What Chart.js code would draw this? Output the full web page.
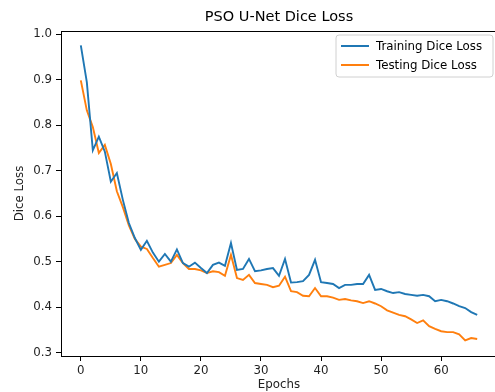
<!DOCTYPE html>
<html>
<head>
<meta charset="utf-8">
<script src="https://cdn.jsdelivr.net/npm/chart.js@4.4.1/dist/chart.umd.min.js"></script>
<style>
html,body{margin:0;padding:0;background:#fff;overflow:hidden;width:495px;height:392px;}
canvas{display:block;}
</style>
</head>
<body>
<canvas id="c" width="520" height="392"></canvas>
<script>
const epochs = Array.from({length: 67}, (_, i) => i);
const trainingDiceLoss = [
  0.976, 0.895, 0.745, 0.775, 0.742, 0.676, 0.695, 0.636, 0.585, 0.552,
  0.526, 0.546, 0.520, 0.500, 0.517, 0.500, 0.527, 0.497, 0.489, 0.498,
  0.486, 0.475, 0.493, 0.498, 0.491, 0.541, 0.482, 0.484, 0.506, 0.479,
  0.481, 0.484, 0.486, 0.469, 0.506, 0.454, 0.455, 0.457, 0.471, 0.504,
  0.455, 0.453, 0.451, 0.442, 0.449, 0.449, 0.451, 0.451, 0.471, 0.438,
  0.440, 0.435, 0.431, 0.433, 0.429, 0.427, 0.425, 0.427, 0.424, 0.413,
  0.416, 0.413, 0.408, 0.402, 0.398, 0.389, 0.383
];
const testingDiceLoss = [
  0.899, 0.833, 0.796, 0.739, 0.757, 0.715, 0.655, 0.620, 0.580, 0.550,
  0.533, 0.528, 0.508, 0.489, 0.493, 0.497, 0.515, 0.497, 0.484, 0.484,
  0.481, 0.475, 0.479, 0.477, 0.469, 0.515, 0.464, 0.460, 0.471, 0.453,
  0.451, 0.449, 0.444, 0.447, 0.467, 0.435, 0.433, 0.425, 0.424, 0.442,
  0.424, 0.424, 0.421, 0.416, 0.418, 0.415, 0.413, 0.409, 0.413, 0.408,
  0.402, 0.393, 0.388, 0.383, 0.380, 0.373, 0.365, 0.371, 0.358, 0.352,
  0.347, 0.345, 0.345, 0.340, 0.327, 0.332, 0.330
];
const xTicks = [0, 10, 20, 30, 40, 50, 60];
const yTicks = [0.3, 0.4, 0.5, 0.6, 0.7, 0.8, 0.9, 1.0];
const seriesLabels = ['Training Dice Loss', 'Testing Dice Loss'];
const chartTitle = 'PSO U-Net Dice Loss';

const FONT = "'DejaVu Sans', sans-serif";

const framePlugin = {
  id: 'frame',
  afterDraw(chart) {
    const {ctx, chartArea: a} = chart;
    ctx.save();
    ctx.strokeStyle = '#000';
    ctx.lineWidth = 1;
    ctx.strokeRect(Math.round(a.left) + 0.5, Math.round(a.top) + 0.5, Math.round(a.right - a.left), Math.round(a.bottom - a.top));
    // title
    ctx.fillStyle = '#000';
    ctx.font = "14.5px " + FONT;
    ctx.textAlign = 'center';
    ctx.textBaseline = 'middle';
    ctx.fillText(chartTitle, (a.left + a.right) / 2, 17);
    // legend
    const bx = 336, by = 35, bw = 157, bh = 42, r = 3;
    ctx.fillStyle = 'rgba(255,255,255,0.85)';
    ctx.strokeStyle = '#d0d0d0';
    ctx.beginPath();
    ctx.moveTo(bx + r, by);
    ctx.lineTo(bx + bw - r, by);
    ctx.quadraticCurveTo(bx + bw, by, bx + bw, by + r);
    ctx.lineTo(bx + bw, by + bh - r);
    ctx.quadraticCurveTo(bx + bw, by + bh, bx + bw - r, by + bh);
    ctx.lineTo(bx + r, by + bh);
    ctx.quadraticCurveTo(bx, by + bh, bx, by + bh - r);
    ctx.lineTo(bx, by + r);
    ctx.quadraticCurveTo(bx, by, bx + r, by);
    ctx.closePath();
    ctx.fill();
    ctx.stroke();
    ctx.font = "11.8px " + FONT;
    ctx.textAlign = 'left';
    chart.data.datasets.forEach((ds, i) => {
      const yy = by + 11 + i * 19;
      ctx.strokeStyle = ds.borderColor;
      ctx.lineWidth = 2;
      ctx.beginPath();
      ctx.moveTo(bx + 5, yy);
      ctx.lineTo(bx + 33, yy);
      ctx.stroke();
      ctx.fillStyle = '#000';
      ctx.fillText(ds.label, bx + 40, yy + 0.5);
    });
    ctx.restore();
  }
};

new Chart(document.getElementById('c'), {
  type: 'line',
  data: {
    datasets: [
      {
        label: seriesLabels[0],
        data: epochs.map((e, i) => ({x: e, y: trainingDiceLoss[i]})),
        borderColor: '#1f77b4',
        backgroundColor: '#1f77b4',
        borderWidth: 1.9,
        pointRadius: 0,
        tension: 0,
        fill: false
      },
      {
        label: seriesLabels[1],
        data: epochs.map((e, i) => ({x: e, y: testingDiceLoss[i]})),
        borderColor: '#ff7f0e',
        backgroundColor: '#ff7f0e',
        borderWidth: 1.9,
        pointRadius: 0,
        tension: 0,
        fill: false
      }
    ]
  },
  options: {
    responsive: false,
    devicePixelRatio: 1,
    animation: false,
    layout: {padding: {left: 0, top: 31, right: 23, bottom: 0}},
    plugins: {
      legend: {display: false},
      title: {display: false},
      tooltip: {enabled: false}
    },
    scales: {
      x: {
        type: 'linear',
        min: -3.3,
        max: 69.3,
        afterBuildTicks: s => { s.ticks = xTicks.map(v => ({value: v})); },
        afterFit: s => { s.height = 36; },
        grid: {drawOnChartArea: false, drawTicks: true, tickLength: 5, color: '#000', tickWidth: 1},
        border: {display: true, color: '#000', width: 1},
        ticks: {color: '#222', font: {family: FONT, size: 11.8}, padding: 3, maxRotation: 0, callback: v => String(v)},
        title: {display: true, text: 'Epochs', color: '#222', font: {family: FONT, size: 11.8}, padding: {top: 0, bottom: 0}}
      },
      y: {
        type: 'linear',
        min: 0.2925,
        max: 1.0075,
        afterBuildTicks: s => { s.ticks = yTicks.map(v => ({value: v})); },
        afterFit: s => { s.width = 61; },
        grid: {drawOnChartArea: false, drawTicks: true, tickLength: 5, color: '#000', tickWidth: 1},
        border: {display: true, color: '#000', width: 1},
        ticks: {color: '#222', font: {family: FONT, size: 11.8}, padding: 4, callback: v => v.toFixed(1)},
        title: {display: true, text: 'Dice Loss', color: '#222', font: {family: FONT, size: 11.8}, padding: {top: 13, bottom: 0}}
      }
    }
  },
  plugins: [framePlugin]
});
</script>
</body>
</html>
